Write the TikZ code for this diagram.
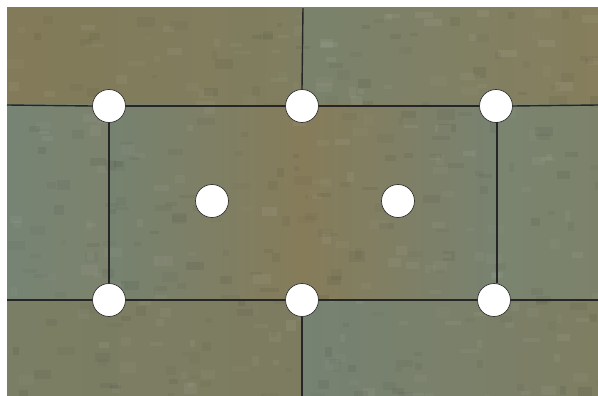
\documentclass[tikz,border=0pt]{standalone}
\usetikzlibrary{calc}
\begin{document}
\begin{tikzpicture}[x=1pt,y=-1pt,
  pt/.style={circle,draw=black!80,line width=0.7pt,fill=white,minimum size=33pt,inner sep=0pt},
  seam/.style={draw=black!85,line width=1.4pt}]
\useasboundingbox (0,0) rectangle (598,396);
\fill[white] (0,0) rectangle (598,396);
% tiles
\shade[left color={rgb,255:red,130;green,122;blue,88}, right color={rgb,255:red,128;green,126;blue,96}] (7,8) rectangle (303,105);
\shade[left color={rgb,255:red,122;green,130;blue,108}, right color={rgb,255:red,134;green,126;blue,92}] (303,8) rectangle (598,105);
\shade[left color={rgb,255:red,118;green,132;blue,116}, right color={rgb,255:red,124;green,130;blue,108}] (7,105) rectangle (109,300);
\shade[left color={rgb,255:red,118;green,130;blue,112}, right color={rgb,255:red,120;green,130;blue,112}, middle color={rgb,255:red,134;green,124;blue,90}] (109,105) rectangle (497,300);
\shade[left color={rgb,255:red,122;green,132;blue,112}, right color={rgb,255:red,124;green,130;blue,106}] (497,105) rectangle (598,300);
\shade[left color={rgb,255:red,122;green,126;blue,100}, right color={rgb,255:red,126;green,124;blue,96}] (7,300) rectangle (302,396);
\shade[left color={rgb,255:red,118;green,130;blue,114}, right color={rgb,255:red,126;green,126;blue,98}] (302,300) rectangle (598,396);
% subtle mottling
\pgfmathsetseed{7}
\begin{scope}
\clip (7,8) rectangle (598,396);
\foreach \i in {1,...,400}{
  \pgfmathsetmacro{\xx}{7+591*rnd}
  \pgfmathsetmacro{\yy}{8+388*rnd}
  \pgfmathsetmacro{\ww}{5+14*rnd}
  \pgfmathsetmacro{\hh}{3+8*rnd}
  \pgfmathsetmacro{\op}{0.02+0.04*rnd}
  \pgfmathparse{rnd>0.5?1:0}
  \ifnum\pgfmathresult=1
    \fill[black,opacity=\op] (\xx,\yy) rectangle ++(\ww,\hh);
  \else
    \fill[white,opacity=\op] (\xx,\yy) rectangle ++(\ww,\hh);
  \fi
}
\end{scope}
% points
\node[pt] (a) at (109,106) {};
\node[pt] (b) at (302,106) {};
\node[pt] (c) at (496,106) {};
\node[pt] (d) at (212,201) {};
\node[pt] (e) at (398,201) {};
\node[pt] (f) at (109,300) {};
\node[pt] (g) at (302,300) {};
\node[pt] (h) at (494,300) {};
\coordinate (lt) at (7,105);
\coordinate (rt) at (598,105);
\coordinate (lb) at (7,300);
\coordinate (rb) at (598,300);
\coordinate (top) at (303,8);
\coordinate (bot) at (302,396);
\coordinate (rs1) at (497,122);
\coordinate (rs2) at (497,283);
% seams
\draw[seam] (lt) -- (a.west);
\draw[seam] (a.east) -- (b.west);
\draw[seam] (b.east) -- (c.west);
\draw[seam] (c.east) -- (rt);
\draw[seam] (lb) -- (f.west);
\draw[seam] (f.east) -- (g.west);
\draw[seam] (g.east) -- (h.west);
\draw[seam] (h.east) -- (rb);
\draw[seam] (top) -- (b.north);
\draw[seam] (g.south) -- (bot);
\draw[seam] (a.south) -- (f.north);
\draw[seam] (rs1) -- (rs2);
\end{tikzpicture}
\end{document}
